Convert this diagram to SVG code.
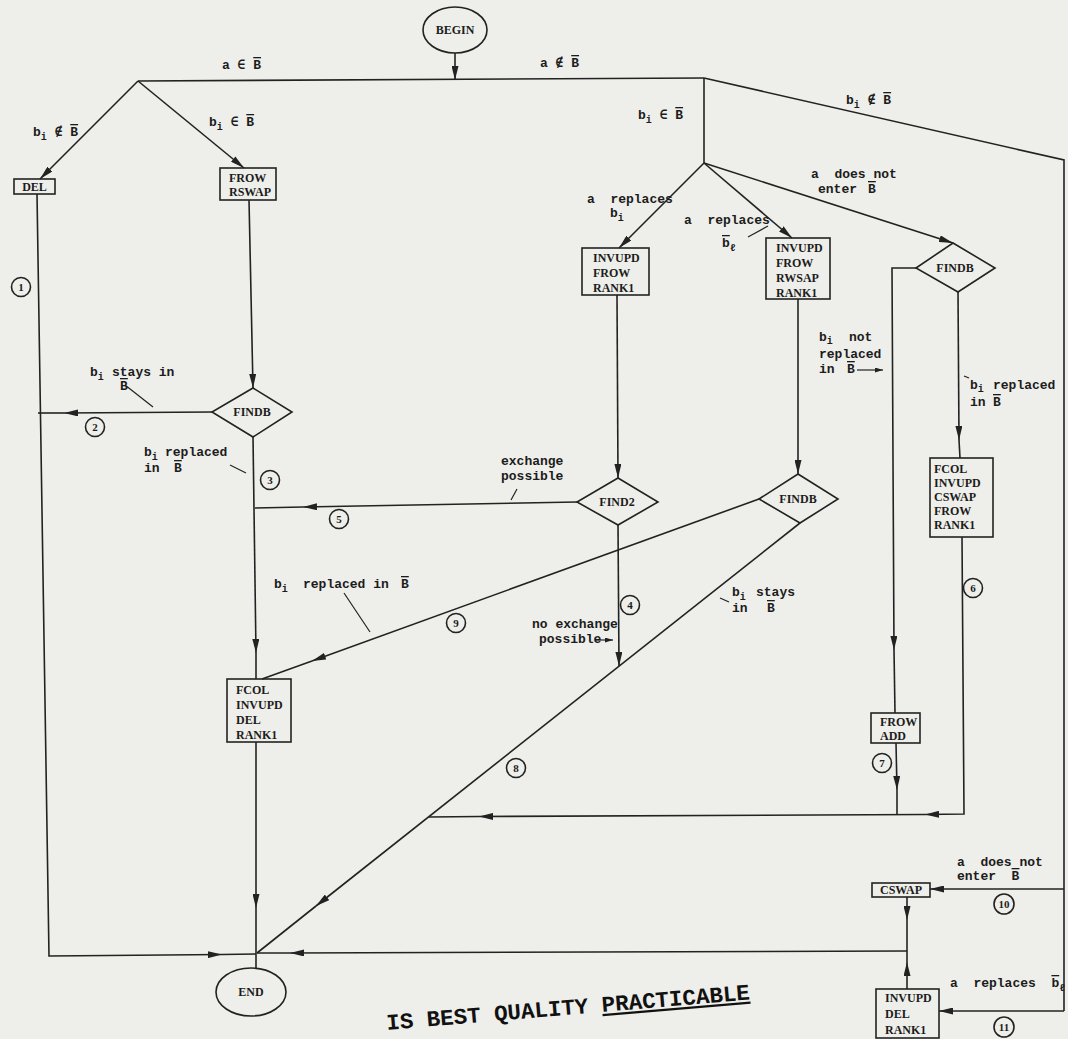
<svg xmlns="http://www.w3.org/2000/svg" width="1068" height="1039" viewBox="0 0 1068 1039">
<style>
.ln{fill:none;stroke:#222;stroke-width:1.6}
.ld{fill:none;stroke:#222;stroke-width:1.2}
.shape{fill:none;stroke:#222;stroke-width:1.6}
.lbl{font-family:"Liberation Mono","DejaVu Sans Mono",monospace;font-size:13px;font-weight:bold;fill:#1c1c1c;white-space:pre}
.sub{font-size:10px}
.ov{text-decoration:overline}
.bx{font-family:"Liberation Serif","DejaVu Serif",serif;font-size:12px;font-weight:bold;fill:#1c1c1c}
.mid{text-anchor:middle}
.num{font-family:"Liberation Serif","DejaVu Serif",serif;font-size:11px;font-weight:bold;fill:#1c1c1c;text-anchor:middle}
.stamp{font-family:"Liberation Mono","DejaVu Sans Mono",monospace;font-size:22.5px;font-weight:bold;fill:#111;white-space:pre}
</style>
<defs>
<marker id="ah" viewBox="0 0 14 7" refX="14" refY="3.5" markerWidth="14" markerHeight="7" markerUnits="userSpaceOnUse" orient="auto">
<path d="M0,0 L14,3.5 L0,7 z" fill="#222"/>
</marker>
<marker id="sa" viewBox="0 0 8 5" refX="8" refY="2.5" markerWidth="8" markerHeight="5" markerUnits="userSpaceOnUse" orient="auto">
<path d="M0,0 L8,2.5 L0,5 z" fill="#222"/>
</marker>
</defs>
<rect width="1068" height="1039" fill="#eeeeea"/>

<g id="connectors">
<path class="ln" d="M455,53 L455,80" marker-end="url(#ah)"/>
<path class="ln" d="M138,81 L704,78"/>
<path class="ln" d="M138,81 L40,179" marker-end="url(#ah)"/>
<path class="ln" d="M138,81 L244,168" marker-end="url(#ah)"/>
<path class="ln" d="M37,194 L49,956 L222,954.5" marker-end="url(#ah)"/>
<path class="ln" d="M222,954.5 L256,954"/>
<path class="ln" d="M249,200 L253,388" marker-end="url(#ah)"/>
<path class="ln" d="M212,412 L64,413" marker-end="url(#ah)"/>
<path class="ln" d="M64,413 L38,413"/>
<path class="ln" d="M253,437 L256,653" marker-end="url(#ah)"/>
<path class="ln" d="M256,653 L256,679"/>
<path class="ln" d="M577,502 L303,507" marker-end="url(#ah)"/>
<path class="ln" d="M303,507 L255,508"/>
<path class="ln" d="M704,78 L704,163"/>
<path class="ln" d="M704,78 L1064,160 L1064,1011"/>
<path class="ln" d="M704,163 L619,248" marker-end="url(#ah)"/>
<path class="ln" d="M704,163 L792,238" marker-end="url(#ah)"/>
<path class="ln" d="M704,163 L953,243" marker-end="url(#ah)"/>
<path class="ln" d="M617,295 L618,478" marker-end="url(#ah)"/>
<path class="ln" d="M798,299 L798,474" marker-end="url(#ah)"/>
<path class="ln" d="M618,525 L619,666" marker-end="url(#ah)"/>
<path class="ln" d="M759,499 L312,661" marker-end="url(#ah)"/>
<path class="ln" d="M312,661 L262,679"/>
<path class="ln" d="M800,523 L316,906" marker-end="url(#ah)"/>
<path class="ln" d="M316,906 L257,953"/>
<path class="ln" d="M916,268 L892,268 L894,650" marker-end="url(#ah)"/>
<path class="ln" d="M894,650 L895,713"/>
<path class="ln" d="M958,292 L959,440" marker-end="url(#ah)"/>
<path class="ln" d="M959,440 L960,458"/>
<path class="ln" d="M896,743 L897,790" marker-end="url(#ah)"/>
<path class="ln" d="M897,790 L897,815"/>
<path class="ln" d="M962,537 L964,814 L925,814.5" marker-end="url(#ah)"/>
<path class="ln" d="M925,814.5 L479,816.5" marker-end="url(#ah)"/>
<path class="ln" d="M479,816.5 L429,817"/>
<path class="ln" d="M1064,889 L930,889" marker-end="url(#ah)"/>
<path class="ln" d="M1064,1011 L939,1011" marker-end="url(#ah)"/>
<path class="ln" d="M907,897 L907,920" marker-end="url(#ah)"/>
<path class="ln" d="M907,920 L907,951"/>
<path class="ln" d="M907,989 L907,962" marker-end="url(#ah)"/>
<path class="ln" d="M907,962 L907,951"/>
<path class="ln" d="M907,951 L290,953" marker-end="url(#ah)"/>
<path class="ln" d="M290,953 L257,953"/>
<path class="ln" d="M256,742 L256,908" marker-end="url(#ah)"/>
<path class="ln" d="M256,908 L256,968"/>
<path class="ld" d="M125,385 L153,407"/>
<path class="ld" d="M230,465 L246,473"/>
<path class="ld" d="M517,489 L511,500"/>
<path class="ld" d="M748,237 L768,226"/>
<path class="ld" d="M857,370 L883,370" marker-end="url(#sa)"/>
<path class="ld" d="M596,640 L613,640" marker-end="url(#sa)"/>
<path class="ld" d="M344,593 L370,632"/>
<path class="ld" d="M720,598 L729,602"/>
<path class="ld" d="M964,376 L969,378"/>
</g>

<g id="n-begin">
<ellipse class="shape" cx="455" cy="30" rx="32" ry="23"/>
<text class="bx mid" x="455" y="34" font-size="11.5">BEGIN</text>
</g>
<g id="n-del">
<rect class="shape" x="14" y="179" width="41" height="15"/>
<text class="bx mid" x="34.5" y="191" font-size="11">DEL</text>
</g>
<g id="n-frow-rswap">
<rect class="shape" x="220" y="168" width="56" height="32"/>
<text class="bx" x="229" y="182">FROW</text>
<text class="bx" x="229" y="196">RSWAP</text>
</g>
<g id="n-findb-left">
<path class="shape" d="M253,388 L292,412 L253,437 L212,412 Z"/>
<text class="bx mid" x="252" y="416">FINDB</text>
</g>
<g id="n-invupd-frow-rank1">
<rect class="shape" x="582" y="248" width="67" height="47"/>
<text class="bx" x="593" y="262">INVUPD</text>
<text class="bx" x="593" y="277">FROW</text>
<text class="bx" x="593" y="292">RANK1</text>
</g>
<g id="n-invupd-frow-rwsap-rank1">
<rect class="shape" x="766" y="238" width="64" height="61"/>
<text class="bx" x="776" y="252">INVUPD</text>
<text class="bx" x="776" y="267">FROW</text>
<text class="bx" x="776" y="282">RWSAP</text>
<text class="bx" x="776" y="297">RANK1</text>
</g>
<g id="n-findb-right">
<path class="shape" d="M953,243 L995,268 L958,292 L916,268 Z"/>
<text class="bx mid" x="955" y="272">FINDB</text>
</g>
<g id="n-find2">
<path class="shape" d="M618,478 L658,502 L618,525 L577,502 Z"/>
<text class="bx mid" x="617" y="506">FIND2</text>
</g>
<g id="n-findb-mid">
<path class="shape" d="M798,474 L838,499 L800,523 L759,499 Z"/>
<text class="bx mid" x="798" y="503">FINDB</text>
</g>
<g id="n-fcol-cswap">
<rect class="shape" x="930" y="458" width="63" height="79"/>
<text class="bx" x="934" y="473">FCOL</text>
<text class="bx" x="934" y="487">INVUPD</text>
<text class="bx" x="934" y="501">CSWAP</text>
<text class="bx" x="934" y="515">FROW</text>
<text class="bx" x="934" y="529">RANK1</text>
</g>
<g id="n-frow-add">
<rect class="shape" x="871" y="713" width="49" height="30"/>
<text class="bx" x="880" y="726">FROW</text>
<text class="bx" x="880" y="740">ADD</text>
</g>
<g id="n-fcol-del">
<rect class="shape" x="227" y="679" width="64" height="63"/>
<text class="bx" x="236" y="694">FCOL</text>
<text class="bx" x="236" y="709">INVUPD</text>
<text class="bx" x="236" y="724">DEL</text>
<text class="bx" x="236" y="739">RANK1</text>
</g>
<g id="n-cswap">
<rect class="shape" x="872" y="883" width="58" height="14"/>
<text class="bx mid" x="901" y="894" font-size="11">CSWAP</text>
</g>
<g id="n-invupd-del-rank1">
<rect class="shape" x="876" y="989" width="63" height="49"/>
<text class="bx" x="885" y="1002">INVUPD</text>
<text class="bx" x="885" y="1018">DEL</text>
<text class="bx" x="885" y="1034">RANK1</text>
</g>
<g id="n-end">
<ellipse class="shape" cx="251" cy="992" rx="35" ry="24"/>
<text class="bx mid" x="251" y="996" font-size="9.5">END</text>
</g>

<g id="labels">
<text class="lbl" x="222" y="69">a ∈ <tspan class="ov">B</tspan></text>
<text class="lbl" x="540" y="67">a ∉ <tspan class="ov">B</tspan></text>
<text class="lbl" x="33" y="136">b<tspan class="sub" dy="4">i</tspan><tspan dy="-4"> ∉ </tspan><tspan class="ov">B</tspan></text>
<text class="lbl" x="209" y="126">b<tspan class="sub" dy="4">i</tspan><tspan dy="-4"> ∈ </tspan><tspan class="ov">B</tspan></text>
<text class="lbl" x="638" y="119">b<tspan class="sub" dy="4">i</tspan><tspan dy="-4"> ∈ </tspan><tspan class="ov">B</tspan></text>
<text class="lbl" x="846" y="104">b<tspan class="sub" dy="4">i</tspan><tspan dy="-4"> ∉ </tspan><tspan class="ov">B</tspan></text>
<text class="lbl" x="587" y="203">a  replaces</text>
<text class="lbl" x="610" y="217">b<tspan class="sub" dy="4">i</tspan></text>
<text class="lbl" x="684" y="224">a  replaces</text>
<text class="lbl" x="722" y="247"><tspan class="ov">b</tspan><tspan class="sub" dy="4">ℓ</tspan></text>
<text class="lbl" x="811" y="178">a  does not</text>
<text class="lbl" x="818" y="193">enter <tspan x="868" class="ov">B</tspan></text>
<text class="lbl" x="90" y="376">b<tspan class="sub" dy="4">i</tspan><tspan dy="-4" x="112">stays in</tspan></text>
<text class="lbl" x="120" y="390"><tspan class="ov">B</tspan></text>
<text class="lbl" x="144" y="456">b<tspan class="sub" dy="4">i</tspan><tspan dy="-4" x="165">replaced</tspan></text>
<text class="lbl" x="144" y="472">in <tspan x="174" class="ov">B</tspan></text>
<text class="lbl" x="501" y="465">exchange</text>
<text class="lbl" x="501" y="480">possible</text>
<text class="lbl" x="819" y="341">b<tspan class="sub" dy="3">i</tspan><tspan dy="-3" x="849">not</tspan></text>
<text class="lbl" x="819" y="358">replaced</text>
<text class="lbl" x="819" y="373">in <tspan x="847" class="ov">B</tspan></text>
<text class="lbl" x="970" y="389">b<tspan class="sub" dy="3">i</tspan><tspan dy="-3" x="993">replaced</tspan></text>
<text class="lbl" x="970" y="406">in <tspan x="993" class="ov">B</tspan></text>
<text class="lbl" x="274" y="588">b<tspan class="sub" dy="4">i</tspan><tspan dy="-4" x="303">replaced in</tspan><tspan x="401" class="ov">B</tspan></text>
<text class="lbl" x="532" y="628">no exchange</text>
<text class="lbl" x="539" y="643">possible</text>
<text class="lbl" x="732" y="596">b<tspan class="sub" dy="4">i</tspan><tspan dy="-4" x="756">stays</tspan></text>
<text class="lbl" x="732" y="612">in <tspan x="767" class="ov">B</tspan></text>
<text class="lbl" x="957" y="866">a  does not</text>
<text class="lbl" x="957" y="880">enter  <tspan class="ov">B</tspan></text>
<text class="lbl" x="950" y="987">a  replaces  <tspan class="ov">b</tspan><tspan class="sub" dy="4">ℓ</tspan></text>
</g>

<g id="step-numbers">
<circle class="shape" cx="21" cy="287" r="9.5"/><text class="num" x="21" y="291">1</text>
<circle class="shape" cx="95" cy="427" r="9.5"/><text class="num" x="95" y="431">2</text>
<circle class="shape" cx="270" cy="480" r="9.5"/><text class="num" x="270" y="484">3</text>
<circle class="shape" cx="630" cy="605" r="9.5"/><text class="num" x="630" y="609">4</text>
<circle class="shape" cx="339" cy="519" r="9.5"/><text class="num" x="339" y="523">5</text>
<circle class="shape" cx="973" cy="588" r="9.5"/><text class="num" x="973" y="592">6</text>
<circle class="shape" cx="882" cy="763" r="9.5"/><text class="num" x="882" y="767">7</text>
<circle class="shape" cx="516" cy="768" r="9.5"/><text class="num" x="516" y="772">8</text>
<circle class="shape" cx="456" cy="623" r="9.5"/><text class="num" x="456" y="627">9</text>
<circle class="shape" cx="1004" cy="904" r="10"/><text class="num" x="1004" y="908">10</text>
<circle class="shape" cx="1004" cy="1027" r="10"/><text class="num" x="1004" y="1031">11</text>
</g>

<text class="stamp" x="387" y="1030" transform="rotate(-4.8 387 1030)">IS BEST QUALITY <tspan text-decoration="underline">PRACTICABLE</tspan></text>
</svg>
